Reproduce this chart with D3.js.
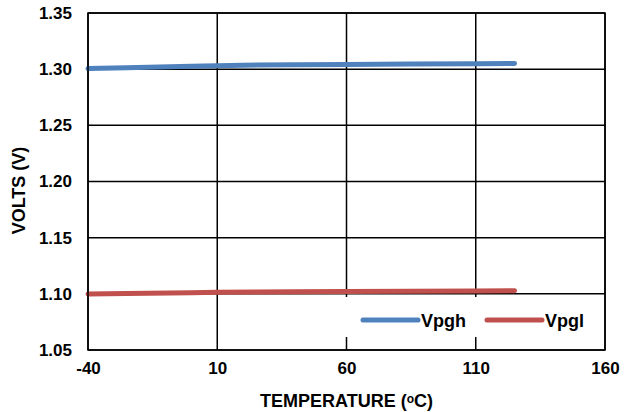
<!DOCTYPE html>
<html>
<head>
<meta charset="utf-8">
<script src="https://cdn.jsdelivr.net/npm/d3@7"></script>
<style>
  body { margin: 0; background: #fff; }
  text { font-family: "Liberation Sans", Arial, sans-serif; font-weight: bold; fill: #000; }
</style>
</head>
<body>
<div id="chart"></div>
<script>
// values
let temps = [-40, -25, 0, 10, 25, 40, 60, 85, 110, 125];
let vpgh  = [1.3005, 1.3012, 1.3025, 1.3031, 1.3036, 1.3039, 1.3042, 1.3045, 1.3048, 1.3050];
let vpgl  = [1.0998, 1.1003, 1.1010, 1.1014, 1.1017, 1.1019, 1.1021, 1.1023, 1.1025, 1.1027];
let xTicks = [-40, 10, 60, 110, 160];
let yTicks = [1.05, 1.10, 1.15, 1.20, 1.25, 1.30, 1.35];
let seriesNames = ["Vpgh", "Vpgl"];
let seriesColors = ["#4f81bd", "#c0504d"];

let width = 629, height = 412;
let margin = { top: 13, right: 24, bottom: 62, left: 88 };
let w = width - margin.left - margin.right;
let h = height - margin.top - margin.bottom;

let svg = d3.select('#chart')
    .append('svg')
        .attr('width', width)
        .attr('height', height)
    .append('g')
        .attr('transform', 'translate(' + margin.left + ',' + margin.top + ')');

let xScale = d3.scaleLinear().domain([-40, 160]).range([0, w]);
let yScale = d3.scaleLinear().domain([1.05, 1.35]).range([h, 0]);

// grid
svg.selectAll('.hgrid')
    .data(yTicks)
    .enter().append('line')
    .attr('x1', 0).attr('x2', w)
    .attr('y1', d => yScale(d)).attr('y2', d => yScale(d))
    .attr('stroke', '#000').attr('stroke-width', 1.5);

svg.selectAll('.vgrid')
    .data(xTicks)
    .enter().append('line')
    .attr('x1', d => xScale(d)).attr('x2', d => xScale(d))
    .attr('y1', 0).attr('y2', h)
    .attr('stroke', '#000').attr('stroke-width', 1.5);

// axes labels
let xAxis = d3.axisBottom(xScale).tickValues(xTicks).tickSize(0).tickPadding(12).tickFormat(d => String(d));
let gx = svg.append('g')
    .attr('transform', 'translate(0,' + h + ')')
    .call(xAxis);
gx.select('.domain').remove();
gx.selectAll('text').style('font-size', '17px').style('font-family', '"Liberation Sans", Arial, sans-serif').style('font-weight', 'bold');

let yAxis = d3.axisLeft(yScale).tickValues(yTicks).tickSize(0).tickPadding(16).tickFormat(d3.format('.2f'));
let gy = svg.append('g').call(yAxis);
gy.select('.domain').remove();
gy.selectAll('text').style('font-size', '17px').style('font-family', '"Liberation Sans", Arial, sans-serif').style('font-weight', 'bold');

// legend background hides the grid under it
let legend = svg.append('g').attr('transform', 'translate(255,284)');
legend.append('rect')
    .attr('x', 0).attr('y', 0).attr('width', w - 257).attr('height', 40)
    .attr('fill', '#fff');

seriesNames.forEach(function (name, i) {
    let lx = 20 + i * 124;
    legend.append('line')
        .attr('x1', lx).attr('x2', lx + 55)
        .attr('y1', 23).attr('y2', 23)
        .attr('stroke', seriesColors[i]).attr('stroke-width', 5)
        .attr('stroke-linecap', 'round');
    legend.append('text')
        .attr('x', lx + 58).attr('y', 29.5)
        .style('font-size', '18px')
        .text(name);
});

// lines
let line = d3.line()
    .x((d, i) => xScale(temps[i]))
    .y(d => yScale(d));

[vpgh, vpgl].forEach(function (vals, i) {
    svg.append('path')
        .datum(vals)
        .attr('d', line)
        .attr('fill', 'none')
        .attr('stroke', seriesColors[i])
        .attr('stroke-width', 5)
        .attr('stroke-linecap', 'round');
});

// frame
svg.append('rect')
    .attr('x', 0).attr('y', 0).attr('width', w).attr('height', h)
    .attr('fill', 'none').attr('stroke', '#000').attr('stroke-width', 1.5);

// titles
let xt = svg.append('text')
    .attr('x', w / 2).attr('y', h + 56.5)
    .attr('text-anchor', 'middle')
    .style('font-size', '18px');
xt.append('tspan').text('TEMPERATURE (');
xt.append('tspan').attr('baseline-shift', '30%').style('font-size', '12px').text('o');
xt.append('tspan').text('C)');

svg.append('text')
    .attr('transform', 'translate(' + (-63) + ',' + (h / 2 + 9) + ') rotate(-90)')
    .attr('text-anchor', 'middle')
    .style('font-size', '18px')
    .text('VOLTS (V)');
</script>
</body>
</html>
